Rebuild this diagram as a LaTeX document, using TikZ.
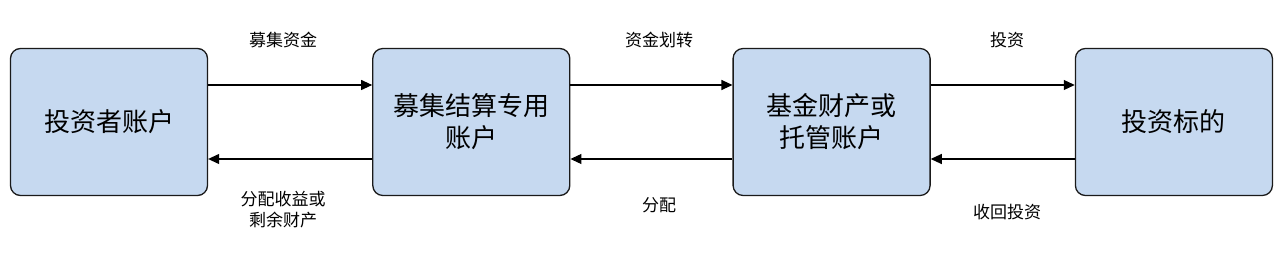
\documentclass[tikz,border=0pt]{standalone}
\usepackage{fontspec}
\setmainfont{Noto Sans CJK SC}
\usepackage{xcolor}
\usepackage{tikz}
\usetikzlibrary{arrows.meta,positioning}
\definecolor{AcctFill}{HTML}{C6D9F0}
\definecolor{AcctLine}{HTML}{1A1A1A}

\begin{document}
\begin{tikzpicture}[x=1pt,y=1pt,>={Triangle[length=11pt,width=10pt]},
  acct/.style={draw=AcctLine,fill=AcctFill,line width=1.3pt,
        rounded corners=10pt,minimum width=197pt,minimum height=147pt,
        align=center,font=\fontsize{26}{32}\selectfont},
  flow/.style={->,line width=1.1pt},
  tag/.style={align=center,font=\fontsize{17}{21}\selectfont}]
  \useasboundingbox (0,0) rectangle (1285,268);
  % Accounts.
  \node[acct] (investor) at (109,146) {投资者账户};
  \node[acct,right=164pt of investor] (collect) {募集结算专用\\账户};
  \node[acct,right=162pt of collect] (custody) {基金财产或\\托管账户};
  \node[acct,right=144pt of custody] (target) {投资标的};
  % Forward flows.
  \draw[flow] ([yshift=37pt]investor.east) -- ([yshift=37pt]collect.west);
  \draw[flow] ([yshift=37pt]collect.east) -- ([yshift=37pt]custody.west);
  \draw[flow] ([yshift=37pt]custody.east) -- ([yshift=37pt]target.west);
  % Return flows.
  \draw[flow] ([yshift=-37pt]collect.west) -- ([yshift=-37pt]investor.east);
  \draw[flow] ([yshift=-37pt]custody.west) -- ([yshift=-37pt]collect.east);
  \draw[flow] ([yshift=-37pt]target.west) -- ([yshift=-37pt]custody.east);
  % Flow labels.
  \node[tag] (raise) at (283,228) {募集资金};
  \node[tag] (transfer) at (659,228) {资金划转};
  \node[tag] (invest) at (1007,228) {投资};
  \node[tag] (payout) at (283,58) {分配收益或\\剩余财产};
  \node[tag] (share) at (659,63) {分配};
  \node[tag] (recover) at (1007,56) {收回投资};
\end{tikzpicture}
\end{document}
